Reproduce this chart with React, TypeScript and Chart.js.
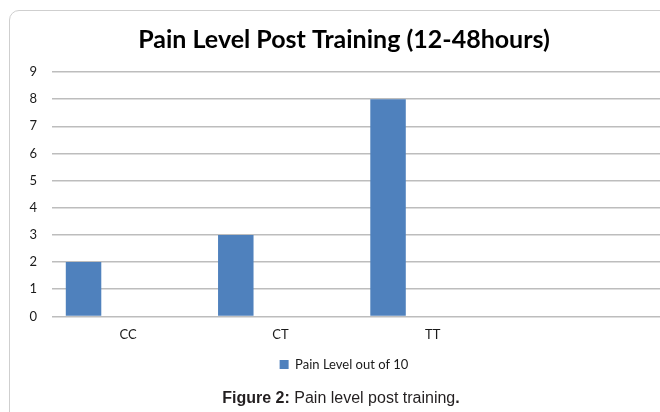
import React, { useEffect, useRef } from "react";
import { Chart, registerables } from "chart.js";

Chart.register(...registerables);

const categories = ["CC", "CT", "TT", ""];
const painLevel: (number | null)[] = [2, 3, 8, null];
const emptySeriesA: (number | null)[] = [null, null, null, null];
const emptySeriesB: (number | null)[] = [null, null, null, null];
const seriesLabel = "Pain Level out of 10";
const chartTitle = "Pain Level Post Training (12-48hours)";
const yMin = 0;
const yMax = 9;
const yStep = 1;

const FONT = "Lato, 'Open Sans', sans-serif";

export default function App() {
  const ref = useRef<HTMLCanvasElement | null>(null);

  useEffect(() => {
    if (!ref.current) return;
    const chart = new Chart(ref.current, {
      type: "bar",
      data: {
        labels: categories,
        datasets: [
          { label: seriesLabel, data: painLevel, backgroundColor: "#4f81bd", borderWidth: 0 },
          { label: "", data: emptySeriesA, backgroundColor: "#c0504d", borderWidth: 0 },
          { label: "", data: emptySeriesB, backgroundColor: "#9bbb59", borderWidth: 0 },
        ],
      },
      options: {
        responsive: false,
        animation: false,
        devicePixelRatio: 1,
        categoryPercentage: 0.8785,
        barPercentage: 0.796,
        layout: { padding: { left: 10, top: 10, right: 2, bottom: 9 } },
        plugins: {
          title: {
            display: true,
            text: chartTitle,
            color: "#000000",
            font: { family: FONT, size: 25, weight: "bold" },
            padding: { top: 15, bottom: 17 },
          },
          legend: {
            position: "bottom",
            labels: {
              boxWidth: 9,
              boxHeight: 9,
              color: "#1a1a1a",
              font: { family: FONT, size: 13 },
              padding: 4,
              filter: (item: any) => item.text !== "",
            },
          },
          tooltip: { enabled: false },
        },
        scales: {
          x: {
            grid: { display: false, drawTicks: false },
            border: { display: false },
            ticks: { color: "#1a1a1a", font: { family: FONT, size: 13 }, padding: 11 },
          },
          y: {
            min: yMin,
            max: yMax,
            afterFit: (scale: any) => {
              scale.width = 42;
            },
            ticks: { stepSize: yStep, color: "#1a1a1a", font: { family: FONT, size: 13 }, padding: 15 },
            grid: { color: "#bdbdbd", lineWidth: 1.5, drawTicks: false },
            border: { display: false },
          },
          yRight: {
            type: "linear",
            position: "right",
            display: true,
            grid: { display: false, drawTicks: false },
            border: { display: false },
            ticks: { display: false },
            afterFit: (scale: any) => {
              scale.width = 17;
            },
          },
        },
      },
    });
    return () => chart.destroy();
  }, []);

  return (
    <div
      style={{
        position: "fixed",
        left: 0,
        top: 0,
        width: 660,
        height: 412,
        overflow: "hidden",
        background: "#ffffff",
      }}
    >
      <div
        style={{
          position: "absolute",
          left: 9,
          top: 10,
          width: 720,
          height: 450,
          border: "1.5px solid #cfcfcf",
          borderRadius: 10,
          boxSizing: "border-box",
        }}
      />
      <canvas
        ref={ref}
        width={680}
        height={390}
        style={{ position: "absolute", left: 0, top: 0, width: 680, height: 390 }}
      />
      <div
        style={{
          position: "absolute",
          left: 0,
          top: 388,
          width: 682,
          textAlign: "center",
          fontFamily: "'Liberation Sans', Arial, sans-serif",
          fontSize: 16,
          color: "#231f20",
          lineHeight: "20px",
          whiteSpace: "nowrap",
        }}
      >
        <b>Figure 2:</b> Pain level post training<b>.</b>
      </div>
    </div>
  );
}
